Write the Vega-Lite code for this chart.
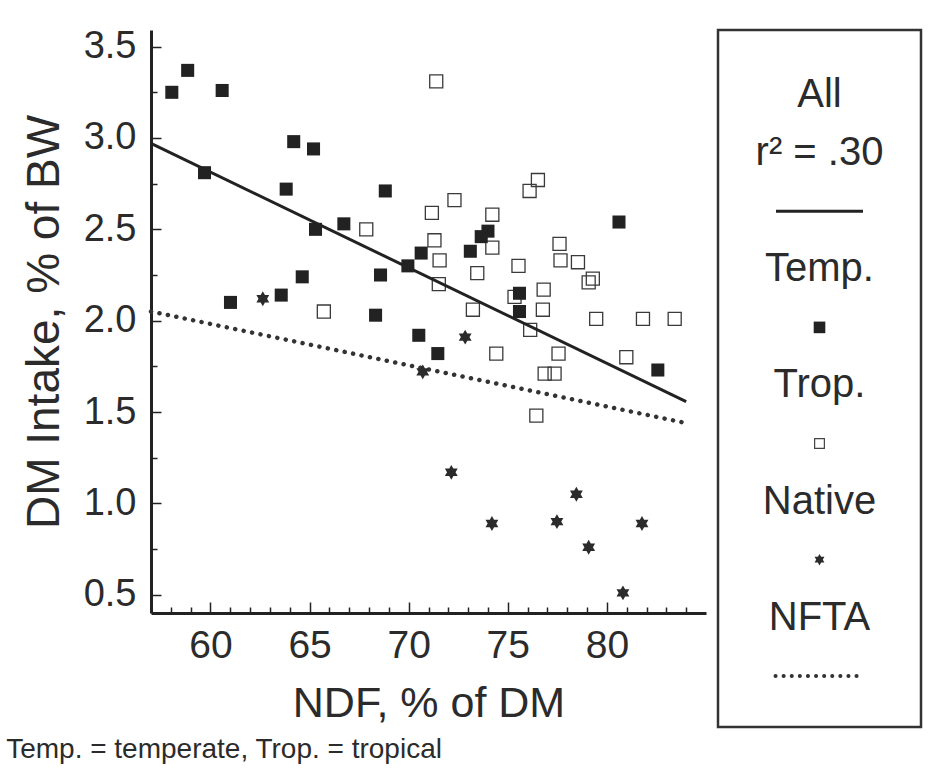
{
  "$schema": "https://vega.github.io/schema/vega-lite/v6.json",
  "background": "white",
  "padding": {"left": 6, "top": 27, "right": 5, "bottom": 5},
  "config": {
    "font": "Liberation Sans",
    "view": {"stroke": null},
    "concat": {"spacing": 10}
  },
  "title": {
    "text": "Temp. = temperate, Trop. = tropical",
    "orient": "bottom",
    "anchor": "start",
    "fontSize": 28,
    "fontWeight": "normal",
    "color": "#2b2b2b",
    "offset": 8,
    "dx": -15
  },
  "datasets": {
    "pts": [
      {"type": "Temp", "ndf": 58.05, "dmi": 3.25},
      {"type": "Temp", "ndf": 58.85, "dmi": 3.37},
      {"type": "Temp", "ndf": 60.59, "dmi": 3.26},
      {"type": "Temp", "ndf": 64.2, "dmi": 2.98},
      {"type": "Temp", "ndf": 65.2, "dmi": 2.94},
      {"type": "Temp", "ndf": 59.7, "dmi": 2.81},
      {"type": "Temp", "ndf": 63.82, "dmi": 2.72},
      {"type": "Temp", "ndf": 68.82, "dmi": 2.71},
      {"type": "Temp", "ndf": 65.3, "dmi": 2.5},
      {"type": "Temp", "ndf": 66.73, "dmi": 2.53},
      {"type": "Temp", "ndf": 69.96, "dmi": 2.3},
      {"type": "Temp", "ndf": 70.63, "dmi": 2.37},
      {"type": "Temp", "ndf": 64.63, "dmi": 2.24},
      {"type": "Temp", "ndf": 68.58, "dmi": 2.25},
      {"type": "Temp", "ndf": 61.01, "dmi": 2.1},
      {"type": "Temp", "ndf": 63.57, "dmi": 2.14},
      {"type": "Temp", "ndf": 68.33, "dmi": 2.03},
      {"type": "Temp", "ndf": 70.51, "dmi": 1.92},
      {"type": "Temp", "ndf": 71.47, "dmi": 1.82},
      {"type": "Temp", "ndf": 80.61, "dmi": 2.54},
      {"type": "Temp", "ndf": 74.0, "dmi": 2.49},
      {"type": "Temp", "ndf": 73.66, "dmi": 2.46},
      {"type": "Temp", "ndf": 73.11, "dmi": 2.38},
      {"type": "Temp", "ndf": 75.59, "dmi": 2.15},
      {"type": "Temp", "ndf": 75.59, "dmi": 2.05},
      {"type": "Temp", "ndf": 82.57, "dmi": 1.73},
      {"type": "Trop", "ndf": 71.39, "dmi": 3.31},
      {"type": "Trop", "ndf": 76.52, "dmi": 2.77},
      {"type": "Trop", "ndf": 76.1, "dmi": 2.71},
      {"type": "Trop", "ndf": 72.31, "dmi": 2.66},
      {"type": "Trop", "ndf": 71.17, "dmi": 2.59},
      {"type": "Trop", "ndf": 74.22, "dmi": 2.58},
      {"type": "Trop", "ndf": 71.3, "dmi": 2.44},
      {"type": "Trop", "ndf": 74.22, "dmi": 2.4},
      {"type": "Trop", "ndf": 71.56, "dmi": 2.33},
      {"type": "Trop", "ndf": 77.61, "dmi": 2.42},
      {"type": "Trop", "ndf": 77.66, "dmi": 2.33},
      {"type": "Trop", "ndf": 78.54, "dmi": 2.32},
      {"type": "Trop", "ndf": 75.54, "dmi": 2.3},
      {"type": "Trop", "ndf": 73.46, "dmi": 2.26},
      {"type": "Trop", "ndf": 79.29, "dmi": 2.23},
      {"type": "Trop", "ndf": 79.08, "dmi": 2.21},
      {"type": "Trop", "ndf": 71.52, "dmi": 2.2},
      {"type": "Trop", "ndf": 76.81, "dmi": 2.17},
      {"type": "Trop", "ndf": 73.24, "dmi": 2.06},
      {"type": "Trop", "ndf": 76.77, "dmi": 2.06},
      {"type": "Trop", "ndf": 75.34, "dmi": 2.13},
      {"type": "Trop", "ndf": 76.13, "dmi": 1.95},
      {"type": "Trop", "ndf": 79.46, "dmi": 2.01},
      {"type": "Trop", "ndf": 81.82, "dmi": 2.01},
      {"type": "Trop", "ndf": 83.42, "dmi": 2.01},
      {"type": "Trop", "ndf": 67.86, "dmi": 2.5},
      {"type": "Trop", "ndf": 65.72, "dmi": 2.05},
      {"type": "Trop", "ndf": 74.42, "dmi": 1.82},
      {"type": "Trop", "ndf": 77.56, "dmi": 1.82},
      {"type": "Trop", "ndf": 80.98, "dmi": 1.8},
      {"type": "Trop", "ndf": 76.86, "dmi": 1.71},
      {"type": "Trop", "ndf": 77.36, "dmi": 1.71},
      {"type": "Trop", "ndf": 76.44, "dmi": 1.48},
      {"type": "Native", "ndf": 62.64, "dmi": 2.12},
      {"type": "Native", "ndf": 72.85, "dmi": 1.91},
      {"type": "Native", "ndf": 70.71, "dmi": 1.72},
      {"type": "Native", "ndf": 72.15, "dmi": 1.17},
      {"type": "Native", "ndf": 78.46, "dmi": 1.05},
      {"type": "Native", "ndf": 74.2, "dmi": 0.89},
      {"type": "Native", "ndf": 77.48, "dmi": 0.9},
      {"type": "Native", "ndf": 81.77, "dmi": 0.89},
      {"type": "Native", "ndf": 79.08, "dmi": 0.76},
      {"type": "Native", "ndf": 80.81, "dmi": 0.51}
    ],
    "fits": [
      {"fit": "All", "ndf": 57.0, "dmi": 2.97},
      {"fit": "All", "ndf": 84.0, "dmi": 1.557},
      {"fit": "NFTA", "ndf": 57.0, "dmi": 2.05},
      {"fit": "NFTA", "ndf": 83.8, "dmi": 1.444}
    ],
    "legend": [
      {"item": "All"},
      {"item": "r² = .30"},
      {"item": "all_line"},
      {"item": "Temp."},
      {"item": "temp_sym"},
      {"item": "Trop."},
      {"item": "trop_sym"},
      {"item": "Native"},
      {"item": "native_sym"},
      {"item": "NFTA"},
      {"item": "nfta_line"}
    ]
  },
  "hconcat": [
    {
      "width": 555,
      "height": 583,
      "resolve": {"axis": {"x": "independent", "y": "independent"}},
      "layer": [
        {
          "encoding": {
            "x": {
              "field": "ndf",
              "type": "quantitative",
              "scale": {"domain": [57, 85], "nice": false, "zero": false},
              "axis": {
                "orient": "bottom",
                "title": "NDF, % of DM",
                "values": [60, 65, 70, 75, 80],
                "ticks": false,
                "labelFlush": false,
                "domainWidth": 3,
                "domainColor": "#222",
                "grid": false,
                "labelFontSize": 39,
                "labelColor": "#2b2b2b",
                "labelPadding": 13,
                "titleFontSize": 43,
                "titleFontWeight": "normal",
                "titleColor": "#2b2b2b",
                "titlePadding": 17
              }
            },
            "y": {
              "field": "dmi",
              "type": "quantitative",
              "scale": {"domain": [0.4, 3.591], "nice": false, "zero": false},
              "axis": {
                "orient": "left",
                "title": "DM Intake, % of BW",
                "values": [0.5, 1, 1.5, 2, 2.5, 3, 3.5],
                "format": ".1f",
                "ticks": false,
                "labelFlush": false,
                "domainWidth": 3,
                "domainColor": "#222",
                "grid": false,
                "labelFontSize": 38,
                "labelColor": "#2b2b2b",
                "labelPadding": 15,
                "titleFontSize": 46,
                "titleFontWeight": "normal",
                "titleColor": "#2b2b2b",
                "titlePadding": 15
              }
            }
          },
          "layer": [
            {
              "data": {"name": "fits"},
              "transform": [{"filter": "datum.fit === 'NFTA'"}],
              "mark": {"type": "line", "color": "#333", "strokeWidth": 4.5, "strokeCap": "round", "strokeDash": [0.1, 8.5]},
              "encoding": {}
            },
            {
              "data": {"name": "pts"},
              "transform": [{"filter": "datum.type === 'Trop'"}],
              "mark": {"type": "point", "shape": "square", "filled": false, "color": "#3a3a3a", "strokeWidth": 1.3, "size": 170, "opacity": 1}
            },
            {
              "data": {"name": "pts"},
              "transform": [{"filter": "datum.type === 'Temp'"}],
              "mark": {"type": "point", "shape": "square", "filled": true, "color": "#222", "size": 170, "opacity": 1}
            },
            {
              "data": {"name": "pts"},
              "transform": [{"filter": "datum.type === 'Native'"}],
              "mark": {"type": "point", "shape": "M0,-1L0.866,0.5L-0.866,0.5Z M0,1L-0.866,-0.5L0.866,-0.5Z", "filled": true, "color": "#2b2b2b", "size": 220, "opacity": 1}
            }
          ]
        },
        {
          "data": {"name": "fits"},
          "transform": [{"filter": "datum.fit === 'All'"}],
          "mark": {"type": "line", "color": "#222", "strokeWidth": 3},
          "encoding": {
            "x": {
              "field": "ndf",
              "type": "quantitative",
              "scale": {"domain": [57, 85], "nice": false, "zero": false},
              "axis": {
                "orient": "top",
                "offset": -583,
                "title": null,
                "labels": false,
                "domain": false,
                "grid": false,
                "values": [58, 59, 60, 61, 62, 63, 64, 65, 66, 67, 68, 69, 70, 71, 72, 73, 74, 75, 76, 77, 78, 79, 80, 81, 82, 83, 84],
                "tickSize": {"condition": {"test": "datum.value % 5 === 0", "value": 11}, "value": 6},
                "tickWidth": 1.5,
                "tickColor": "#222"
              }
            },
            "y": {
              "field": "dmi",
              "type": "quantitative",
              "scale": {"domain": [0.4, 3.591], "nice": false, "zero": false},
              "axis": {
                "orient": "right",
                "offset": -555,
                "title": null,
                "labels": false,
                "domain": false,
                "grid": false,
                "values": [0.5, 0.75, 1, 1.25, 1.5, 1.75, 2, 2.25, 2.5, 2.75, 3, 3.25, 3.5],
                "tickSize": {"condition": {"test": "(datum.value * 2) % 1 === 0", "value": 10}, "value": 6},
                "tickWidth": 1.5,
                "tickColor": "#222"
              }
            }
          }
        }
      ]
    },
    {
      "width": 203,
      "height": 697,
      "view": {"stroke": "#333", "strokeWidth": 2.5},
      "data": {"name": "legend"},
      "encoding": {
        "y": {
          "field": "item",
          "type": "nominal",
          "scale": {
            "type": "point",
            "domain": ["All", "r² = .30", "all_line", "Temp.", "temp_sym", "Trop.", "trop_sym", "Native", "native_sym", "NFTA", "nfta_line"],
            "padding": 1.03,
            "align": 0.56
          },
          "axis": null
        }
      },
      "layer": [
        {
          "transform": [{"filter": {"field": "item", "oneOf": ["All", "r² = .30", "Temp.", "Trop.", "Native", "NFTA"]}}],
          "mark": {"type": "text", "fontSize": 40, "color": "#2b2b2b", "baseline": "middle", "align": "center"},
          "encoding": {"text": {"field": "item"}}
        },
        {
          "transform": [{"filter": "datum.item === 'all_line'"}],
          "mark": {"type": "point", "shape": "M-1,0L1,0", "size": 7569, "filled": false, "color": "#222", "strokeWidth": 3, "opacity": 1}
        },
        {
          "transform": [{"filter": "datum.item === 'temp_sym'"}],
          "mark": {"type": "point", "shape": "square", "size": 135, "filled": true, "color": "#222", "opacity": 1}
        },
        {
          "transform": [{"filter": "datum.item === 'trop_sym'"}],
          "mark": {"type": "point", "shape": "square", "size": 95, "filled": false, "color": "#444", "strokeWidth": 1.2, "opacity": 1}
        },
        {
          "transform": [{"filter": "datum.item === 'native_sym'"}],
          "mark": {"type": "point", "shape": "M0,-1L0.866,0.5L-0.866,0.5Z M0,1L-0.866,-0.5L0.866,-0.5Z", "size": 130, "filled": true, "color": "#2b2b2b", "opacity": 1}
        },
        {
          "transform": [{"filter": "datum.item === 'nfta_line'"}],
          "mark": {"type": "point", "shape": "M-1,0L1,0", "size": 7744, "filled": false, "color": "#333", "strokeWidth": 4, "strokeCap": "round", "strokeDash": [0.1, 8], "opacity": 1}
        }
      ]
    }
  ]
}
